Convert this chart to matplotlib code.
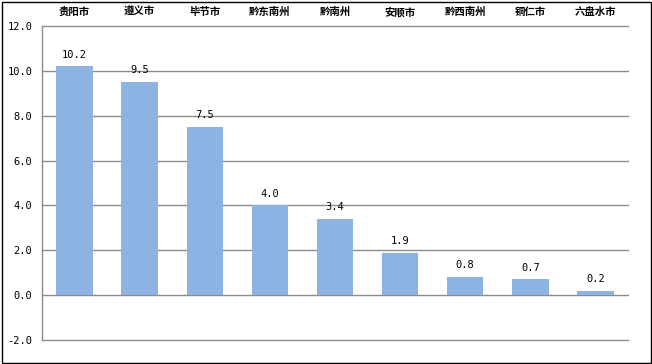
import matplotlib
matplotlib.use('Agg')
import matplotlib.pyplot as plt
from matplotlib.patches import Rectangle

# data
cities=['贵阳市','遵义市','毕节市','黔东南州','黔南州','安顺市','黔西南州','铜仁市','六盘水市']
values=[10.2,9.5,7.5,4.0,3.4,1.9,0.8,0.7,0.2]
yticks=[-2.0,0.0,2.0,4.0,6.0,8.0,10.0,12.0]

bar_col='#8DB3E2'
grid_col='#8C8C8C'
num_font='DejaVu Sans Mono'
cjk_font=['Noto Sans CJK SC','DejaVu Sans']

fig=plt.figure(figsize=(6.52,3.64),dpi=100)
ax=fig.add_axes([42/652,1-340/364,(628-42)/652,(340-26)/364])

x=list(range(len(cities)))
ax.bar(x,values,width=0.56,color=bar_col,zorder=2)
ax.set_xlim(-0.5,len(cities)-0.5)
ax.set_ylim(-2,12)

# value labels
for xi,v in zip(x,values):
    ax.text(xi,v+0.3,'%.1f'%v,ha='center',va='bottom',fontsize=7.5,
            family=num_font,color='black')

# y axis
ax.set_yticks(yticks)
ax.set_yticklabels(['%.1f'%t for t in yticks],family=num_font,fontsize=7.5)
ax.tick_params(axis='y',length=0,pad=7)
ax.tick_params(axis='x',length=0)
ax.set_xticks(x)
ax.set_xticklabels([])
for t in yticks:
    ax.axhline(t,color=grid_col,lw=1.0,zorder=1,clip_on=False)
for s in ['top','right','bottom']:
    ax.spines[s].set_visible(False)
ax.spines['left'].set_color(grid_col)
ax.spines['left'].set_linewidth(1.0)

# category labels on top
for xi,c in zip(x,cities):
    fig.text((42+(xi+0.5)*(586/9))/652,1-12/364,c,ha='center',va='center',
             fontsize=7.5,fontweight='bold',family=cjk_font)

# figure border
fig.patches.append(Rectangle((1.5/652,1.5/364),1-3/652,1-3/364,
                   transform=fig.transFigure,fill=False,edgecolor='black',lw=1.0))

plt.savefig('out.png',dpi=100)
plt.close('all')
